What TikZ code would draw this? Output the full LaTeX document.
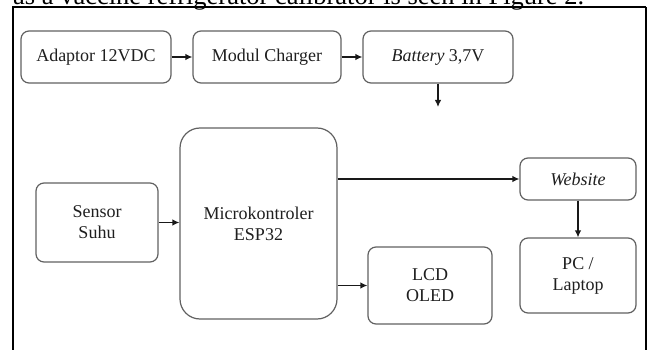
\documentclass[tikz,border=0pt]{standalone}
\usepackage{fontspec}
\setmainfont{Liberation Serif}
\usetikzlibrary{arrows.meta}
\begin{document}
\begin{tikzpicture}[x=1pt,y=-1pt,
  blk/.style={draw=black!62, line width=1.2pt, rounded corners=8pt, align=center,
    inner sep=0pt, text=black!88, font=\fontsize{18}{21}\selectfont},
  conn/.style={line width=1.2pt, draw=black!90, -{Latex[length=7pt,width=6.5pt]}},
  frame/.style={draw=black, line width=1.1pt}]
\clip (0,0) rectangle (656,350);
\fill[white] (0,0) rectangle (656,350);
% cut-off caption text
\node[anchor=base west, inner sep=0pt, font=\fontsize{26.5}{30}\selectfont] (cap) at (13,5)
  {as a vaccine refrigerator calibrator is seen in Figure 2.};
% frame
\coordinate (fbl) at (13,360);
\coordinate (ftl) at (13,7);
\coordinate (ftr) at (646,7);
\coordinate (fbr) at (646,360);
\draw[frame] (fbl) -- (ftl) -- (ftr);
\draw[frame, line width=1.8pt] (ftr) -- (fbr);
% nodes
\node[blk, minimum width=150pt, minimum height=52pt] (ad) at (96,57) {Adaptor 12VDC};
\node[blk, minimum width=148pt, minimum height=52pt] (mc) at (267,57) {Modul Charger};
\node[blk, minimum width=150pt, minimum height=52pt] (bat) at (438,57) {\textit{Battery} 3,7V};
\node[blk, minimum width=122pt, minimum height=79pt] (sen) at (97,222.5) {Sensor\\Suhu};
\node[blk, rounded corners=20pt, minimum width=157pt, minimum height=191pt] (mic) at (258.5,223.5) {Microkontroler\\ESP32};
\node[blk, minimum width=124pt, minimum height=77pt] (lcd) at (430,285.5) {LCD\\OLED};
\node[blk, minimum width=116pt, minimum height=42pt] (web) at (578,179) {\textit{Website}};
\node[blk, minimum width=116pt, minimum height=75pt] (pc) at (578,275.5) {PC /\\Laptop};
\coordinate (batend) at (438,107);
% connectors
\draw[conn] (ad.east) -- (mc.west);
\draw[conn] (mc.east) -- (bat.west);
\draw[conn] (bat.south) -- (batend);
\draw[conn] (sen.east) -- (sen.east -| mic.west);
\draw[conn] (web.west -| mic.east) -- (web.west);
\draw[conn] (lcd.west -| mic.east) -- (lcd.west);
\draw[conn] (web.south) -- (pc.north);
\end{tikzpicture}
\end{document}
